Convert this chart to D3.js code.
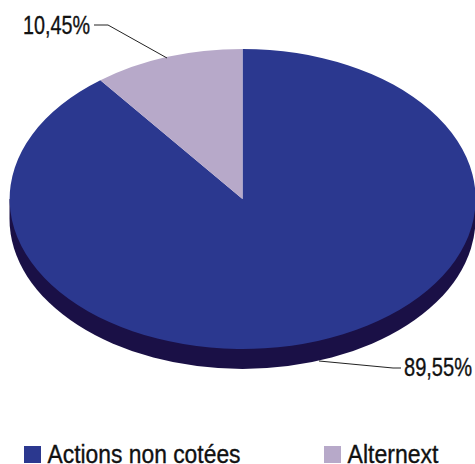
<!DOCTYPE html>
<html>

<head>
  <meta charset="utf-8" />
  <title>Actions non cotées / Alternext</title>
  <script src="https://d3js.org/d3.v7.min.js"></script>
  <style>
    html, body { margin: 0; padding: 0; background: #fff; }
    svg { display: block; }
    text { font-family: "Liberation Sans", sans-serif; fill: #111; stroke: #111; stroke-width: 0.35; }
  </style>
</head>

<body>
  <script>
    const categories = ["Actions non cotées", "Alternext"];
    const values = [89.55, 10.45];
    const valueLabels = ["89,55%", "10,45%"];
    const colors = ["#2b388f", "#b7a9c9"];
    const sideColor = "#1a1046";

    const width = 475;
    const height = 464;
    const cx = 242.5;
    const cy = 199;
    const rx = 233;
    const ry = 150;
    const depth = 20;

    const svg = d3.select("body")
      .append("svg")
      .attr("width", width)
      .attr("height", height);

    // the pie is drawn on a unit circle, then squashed to an ellipse
    const pie = d3.pie().sort(null).value(d => d);
    const arc = d3.arc().innerRadius(0).outerRadius(1);

    // side of the pie: lower half of the ellipse moved down, plus a filler band
    const side = svg.append("g").attr("fill", sideColor);
    side.append("path")
      .attr("transform", `translate(${cx}, ${cy + depth}) scale(${rx}, ${ry})`)
      .attr("d", arc({ startAngle: Math.PI / 2, endAngle: Math.PI * 1.5 }));
    side.append("rect")
      .attr("x", cx - rx)
      .attr("y", cy)
      .attr("width", rx * 2)
      .attr("height", depth);

    svg.append("g")
      .attr("transform", `translate(${cx}, ${cy}) scale(${rx}, ${ry})`)
      .selectAll("path")
      .data(pie(values))
      .enter()
      .append("path")
      .attr("d", arc)
      .attr("fill", (d, i) => colors[i]);

    // leader lines
    const leaders = [
      [[319, 361], [393, 368], [401, 368]],
      [[167, 58], [108, 25], [94, 25]]
    ];
    svg.selectAll("path.leader")
      .data(leaders)
      .enter()
      .append("path")
      .attr("class", "leader")
      .attr("d", d3.line())
      .attr("fill", "none")
      .attr("stroke", "#222")
      .attr("stroke-width", 1);

    // no condensed font installed, so the text is squeezed with textLength
    const labelPos = [[404, 376], [23, 34]];
    const labelWidths = [68, 67];
    svg.selectAll("text.value")
      .data(valueLabels)
      .enter()
      .append("text")
      .attr("class", "value")
      .attr("x", (d, i) => labelPos[i][0])
      .attr("y", (d, i) => labelPos[i][1])
      .attr("font-size", 26)
      .attr("textLength", (d, i) => labelWidths[i])
      .attr("lengthAdjust", "spacingAndGlyphs")
      .text(d => d);

    // legend
    const legendX = [24, 324];
    const legendWidths = [193, 91];
    const legend = svg.selectAll("g.legend")
      .data(categories)
      .enter()
      .append("g")
      .attr("class", "legend")
      .attr("transform", (d, i) => `translate(${legendX[i]}, 446)`);
    legend.append("rect")
      .attr("width", 17)
      .attr("height", 17)
      .attr("fill", (d, i) => colors[i]);
    legend.append("text")
      .attr("x", 23.5)
      .attr("y", 16.7)
      .attr("font-size", 25.5)
      .attr("textLength", (d, i) => legendWidths[i])
      .attr("lengthAdjust", "spacingAndGlyphs")
      .text(d => d);
  </script>
</body>

</html>
